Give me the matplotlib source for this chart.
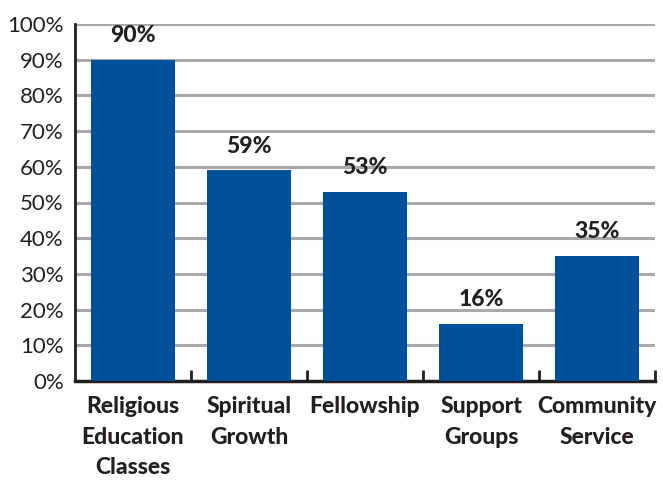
import numpy as np
import matplotlib
matplotlib.use('Agg')
import matplotlib.pyplot as plt

# programme participation shares
categories = ['Religious\nEducation\nClasses', 'Spiritual\nGrowth', 'Fellowship',
              'Support\nGroups', 'Community\nService']
values = [90, 59, 53, 16, 35]
yticks = [0, 10, 20, 30, 40, 50, 60, 70, 80, 90, 100]

bar_color = '#00519a'
text_color = '#231f20'
plt.rcParams['font.family'] = ['Lato', 'DejaVu Sans']

fig = plt.figure(figsize=(6.63, 4.8), dpi=100)
ax = fig.add_axes([75/663, 1 - 381/480, (655-75)/663, (381-24)/480])

x = np.arange(len(categories))
ax.bar(x, values, width=0.72, color=bar_color, zorder=3)
for xi, v in zip(x, values):
    ax.text(xi, v + 3.8, f'{v}%', ha='center', va='bottom', fontsize=16.5,
            fontweight='black', color=text_color)

ax.set_xlim(-0.5, len(categories) - 0.5)
ax.set_ylim(0, 100)
ax.set_yticks(yticks)
ax.set_yticklabels([f'{t}%' for t in yticks], fontsize=16, color=text_color)
ax.tick_params(axis='y', length=0, pad=8)
ax.yaxis.grid(True, color='#a7a9ac', linewidth=2.2, zorder=0)

# category labels, with small inward ticks at the category boundaries
ax.set_xticks(x)
ax.set_xticklabels(categories, fontsize=16.5, fontweight='black', color=text_color,
                   linespacing=1.55)
ax.tick_params(axis='x', length=0, pad=11)
ax.set_xticks(np.arange(len(categories)) + 0.5, minor=True)
ax.tick_params(axis='x', which='minor', direction='in', length=8, width=2,
               color=text_color)

for side in ['top', 'right']:
    ax.spines[side].set_visible(False)
ax.spines['left'].set_color(text_color)
ax.spines['left'].set_linewidth(2)
ax.spines['bottom'].set_color(text_color)
ax.spines['bottom'].set_linewidth(2.5)

fig.savefig('out.png', dpi=100)
